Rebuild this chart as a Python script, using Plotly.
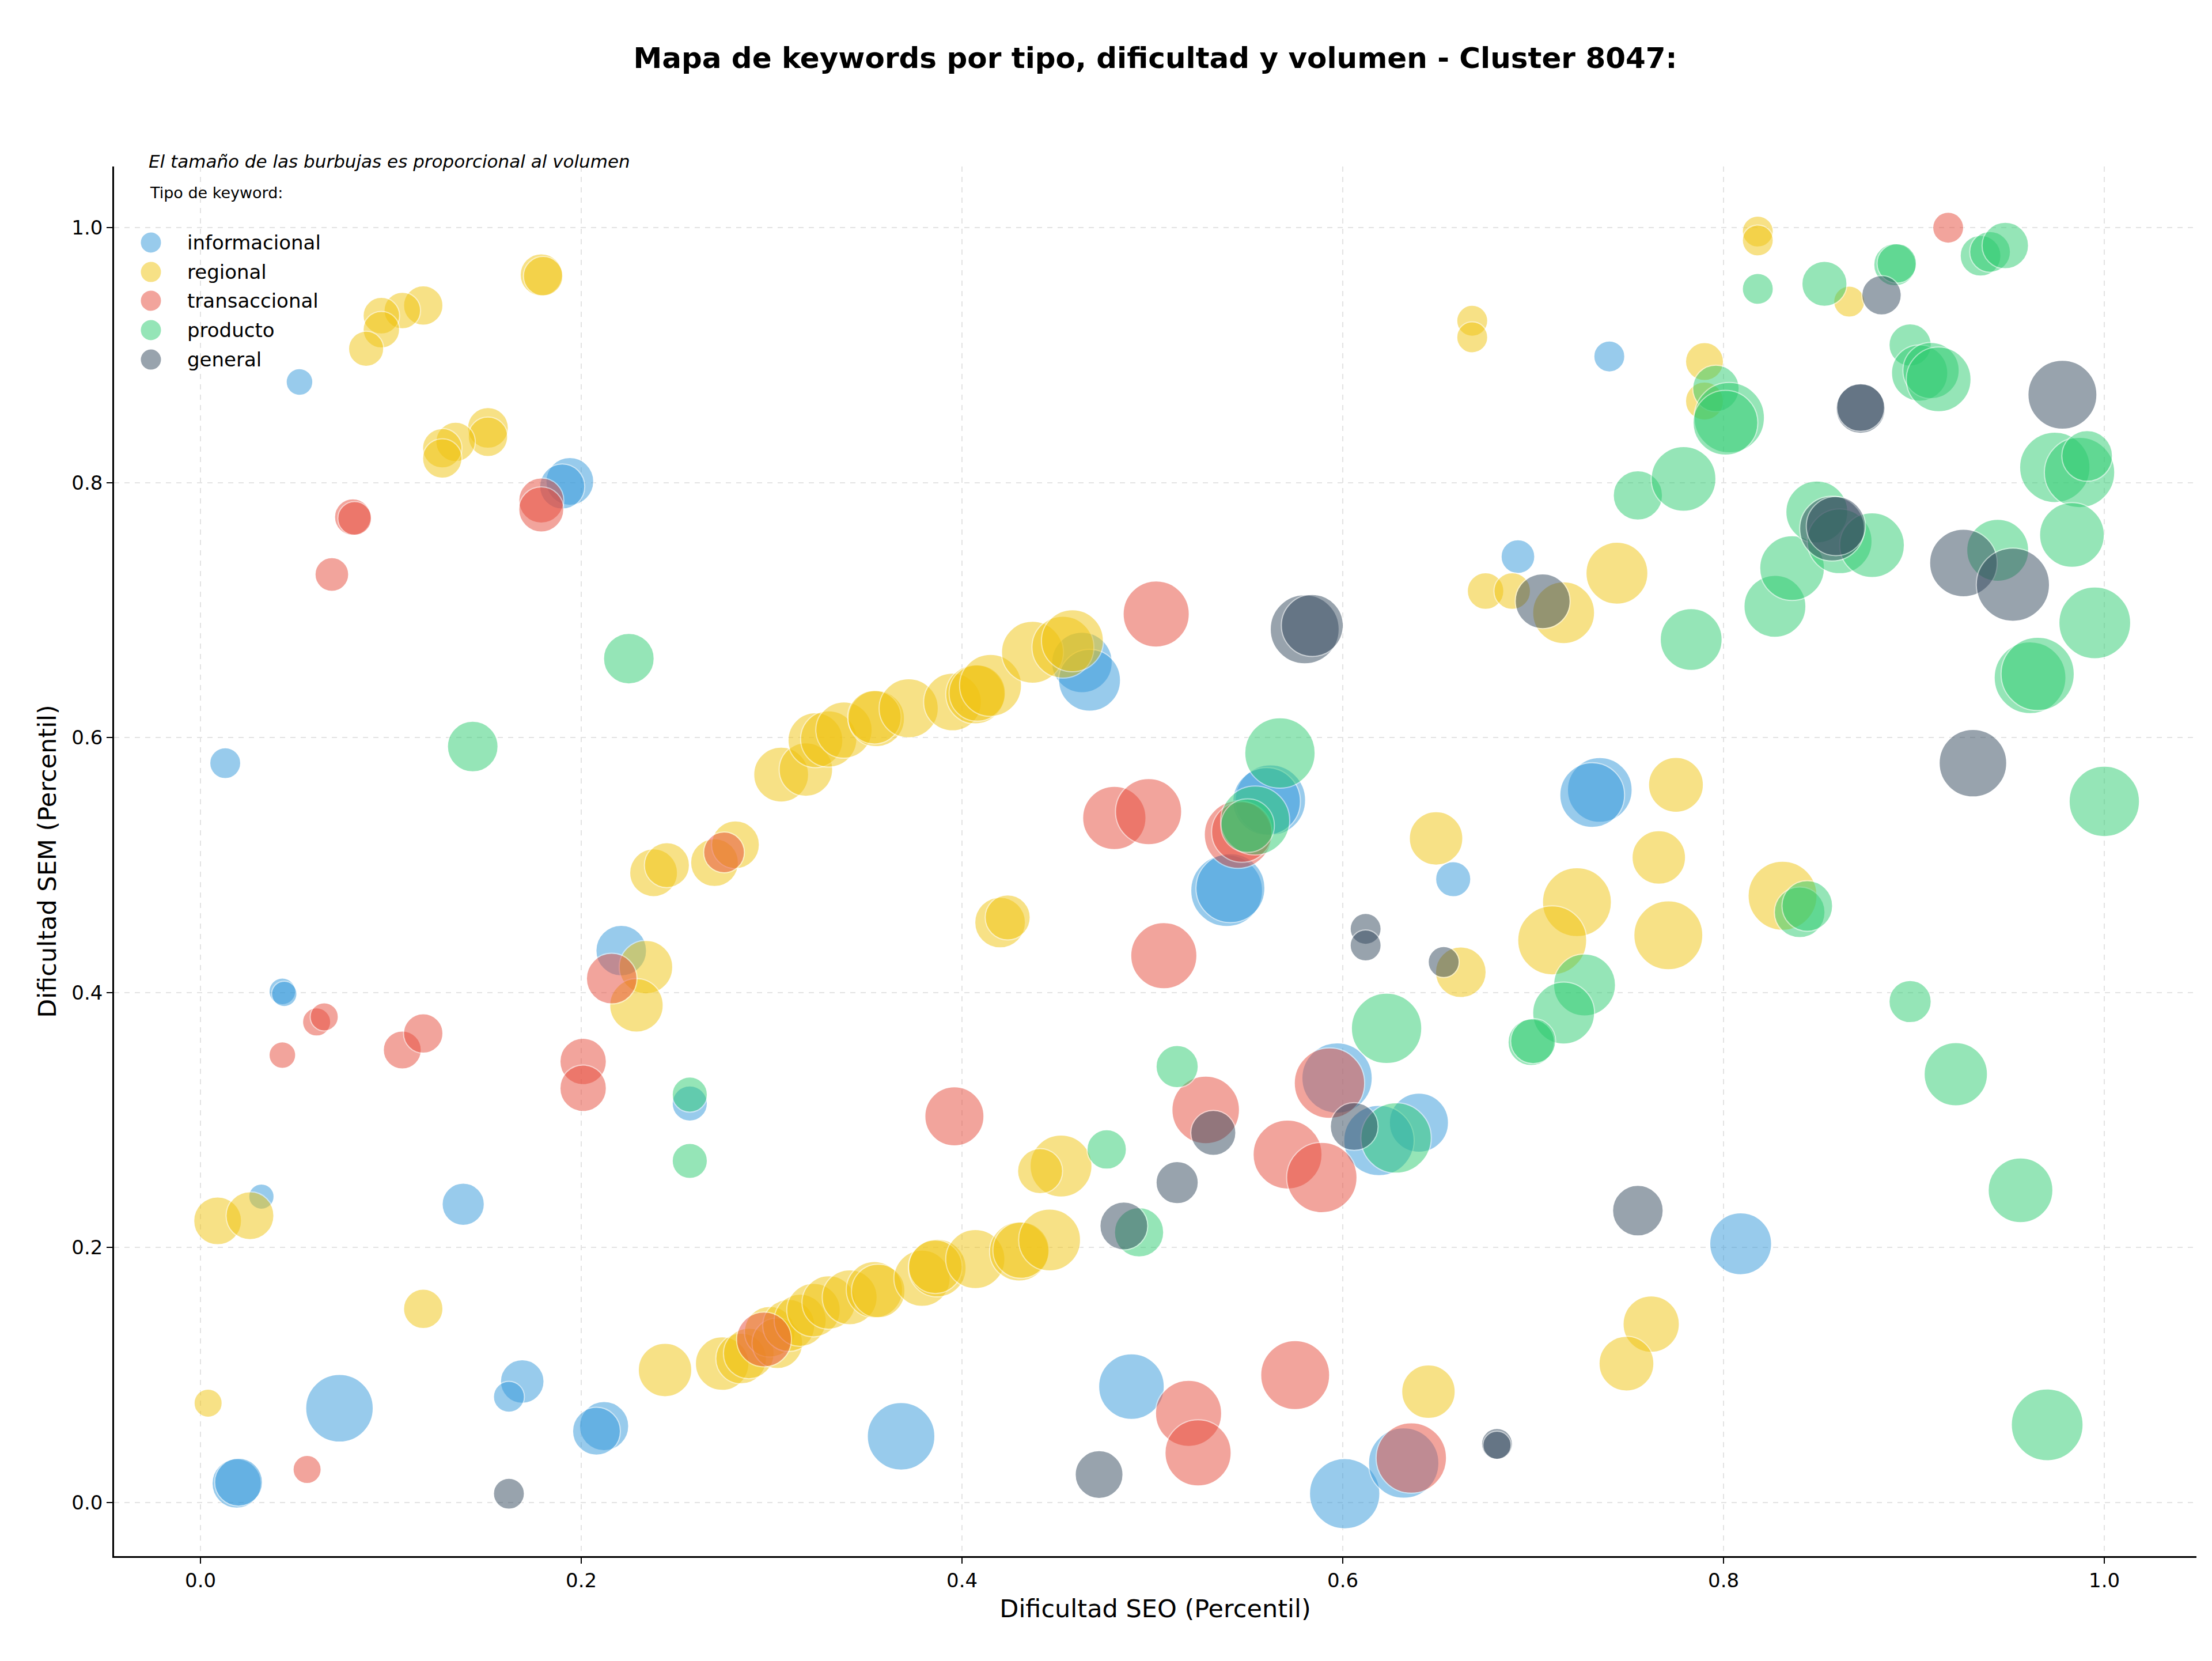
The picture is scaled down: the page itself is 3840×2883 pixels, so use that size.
import numpy as np
import plotly.graph_objects as go

# --- datos (dificultad SEO, dificultad SEM, volumen) ---
info_seo = [0.052, 0.194, 0.190, 0.013, 0.043, 0.044, 0.032, 0.138, 0.221, 0.257,
            0.073, 0.019, 0.020, 0.169, 0.162, 0.212, 0.208, 0.368, 0.489, 0.601,
            0.632, 0.640, 0.619, 0.597, 0.658, 0.539, 0.541, 0.562, 0.560, 0.463,
            0.467, 0.740, 0.692, 0.735, 0.731, 0.809]
info_sem = [0.879, 0.801, 0.797, 0.580, 0.401, 0.399, 0.240, 0.234, 0.433, 0.313,
            0.074, 0.015, 0.016, 0.095, 0.083, 0.060, 0.056, 0.052, 0.091, 0.007,
            0.031, 0.298, 0.284, 0.333, 0.489, 0.480, 0.482, 0.551, 0.550, 0.659,
            0.645, 0.899, 0.742, 0.559, 0.555, 0.203]
info_vol = [720, 2310, 2050, 970, 720, 650, 650, 1800, 2590, 1250,
            4610, 2450, 2310, 1920, 970, 2450, 2310, 4610, 4350, 5000,
            5000, 3530, 5000, 5000, 1250, 5200, 4800, 5000, 4610, 3700,
            3870, 970, 1150, 4230, 4230, 3870]

reg_seo = [0.179, 0.180, 0.117, 0.106, 0.095, 0.095, 0.087, 0.151, 0.151, 0.134,
           0.127, 0.127, 0.009, 0.026, 0.004, 0.117, 0.244, 0.274, 0.284, 0.288,
           0.299, 0.303, 0.309, 0.315, 0.322, 0.330, 0.341, 0.354, 0.356, 0.379,
           0.387, 0.386, 0.407, 0.430, 0.431, 0.446, 0.238, 0.245, 0.270, 0.281,
           0.305, 0.318, 0.323, 0.330, 0.338, 0.355, 0.354, 0.372, 0.395, 0.407,
           0.408, 0.415, 0.437, 0.453, 0.458, 0.668, 0.668, 0.675, 0.689, 0.716,
           0.744, 0.818, 0.818, 0.866, 0.790, 0.790, 0.775, 0.766, 0.723, 0.710,
           0.771, 0.831, 0.762, 0.749, 0.420, 0.424, 0.452, 0.441, 0.662, 0.645,
           0.649, 0.234, 0.229]
reg_sem = [0.963, 0.962, 0.939, 0.935, 0.931, 0.920, 0.905, 0.843, 0.836, 0.832,
           0.827, 0.819, 0.221, 0.225, 0.078, 0.152, 0.104, 0.109, 0.113, 0.117,
           0.134, 0.125, 0.139, 0.143, 0.151, 0.157, 0.161, 0.167, 0.166, 0.176,
           0.184, 0.185, 0.191, 0.197, 0.198, 0.206, 0.494, 0.500, 0.502, 0.516,
           0.571, 0.575, 0.598, 0.599, 0.606, 0.615, 0.616, 0.623, 0.628, 0.634,
           0.635, 0.641, 0.667, 0.671, 0.676, 0.927, 0.914, 0.715, 0.715, 0.698,
           0.729, 0.997, 0.990, 0.942, 0.895, 0.864, 0.563, 0.506, 0.471, 0.441,
           0.445, 0.476, 0.140, 0.109, 0.455, 0.459, 0.264, 0.260, 0.416, 0.087,
           0.521, 0.420, 0.390]
reg_vol = [1800, 1570, 1570, 1350, 1350, 1350, 1250, 1680, 1570, 1570,
           1570, 1570, 2310, 2310, 800, 1570, 2890, 2890, 2590, 2590,
           2590, 2590, 2740, 2740, 2890, 2890, 3040, 3200, 2890, 3200,
           3360, 2890, 3530, 3530, 3200, 3870, 2310, 2050, 2310, 2310,
           3040, 2890, 3040, 3200, 3200, 3200, 2890, 3530, 3360, 3530,
           3200, 3870, 3870, 3870, 3870, 970, 970, 1350, 1350, 3870,
           3870, 970, 970, 970, 1460, 1460, 3040, 2890, 4800, 4800,
           4800, 4800, 3200, 3040, 2590, 2050, 3870, 2050, 2590, 2890,
           2890, 2890, 2890]

trans_seo = [0.080, 0.081, 0.069, 0.179, 0.179, 0.043, 0.061, 0.065, 0.106, 0.117,
             0.201, 0.201, 0.216, 0.056, 0.296, 0.275, 0.502, 0.480, 0.498, 0.545,
             0.547, 0.396, 0.528, 0.571, 0.589, 0.593, 0.519, 0.524, 0.575, 0.636,
             0.918, 0.506]
trans_sem = [0.773, 0.772, 0.728, 0.786, 0.779, 0.351, 0.377, 0.381, 0.355, 0.368,
             0.346, 0.325, 0.411, 0.026, 0.128, 0.510, 0.697, 0.537, 0.542, 0.524,
             0.526, 0.303, 0.308, 0.273, 0.255, 0.329, 0.070, 0.039, 0.100, 0.035,
             1.000, 0.429]
trans_vol = [1350, 1150, 1150, 2050, 2050, 720, 800, 800, 1460, 1570,
             2180, 2180, 2590, 800, 3040, 1680, 4420, 4050, 4420, 4610,
             3700, 3530, 4610, 4800, 5000, 5000, 4420, 4420, 4800, 5000,
             970, 4420]

prod_seo = [0.225, 0.143, 0.257, 0.257, 0.476, 0.513, 0.493, 0.623, 0.628, 0.567,
            0.554, 0.550, 0.755, 0.779, 0.796, 0.803, 0.801, 0.818, 0.853, 0.890,
            0.891, 0.935, 0.940, 0.948, 0.898, 0.903, 0.909, 0.913, 0.974, 0.987,
            0.991, 0.983, 0.995, 0.961, 0.965, 0.783, 0.827, 0.836, 0.849, 0.861,
            0.878, 0.944, 0.727, 0.716, 0.699, 0.700, 0.840, 0.844, 0.898, 0.922,
            0.956, 0.970, 1.000]
prod_sem = [0.662, 0.593, 0.320, 0.268, 0.277, 0.342, 0.212, 0.372, 0.286, 0.588,
            0.535, 0.531, 0.790, 0.803, 0.874, 0.851, 0.847, 0.952, 0.956, 0.971,
            0.972, 0.978, 0.981, 0.986, 0.908, 0.886, 0.888, 0.881, 0.812, 0.808,
            0.821, 0.759, 0.690, 0.647, 0.650, 0.677, 0.703, 0.733, 0.777, 0.754,
            0.751, 0.747, 0.406, 0.384, 0.361, 0.362, 0.463, 0.468, 0.393, 0.336,
            0.245, 0.061, 0.550]
prod_vol = [2590, 2590, 1250, 1250, 1570, 1800, 2450, 5000, 5000, 5000,
            4800, 2890, 2450, 4230, 2180, 5000, 4230, 970, 2050, 1800,
            1570, 1680, 1680, 2180, 1800, 3200, 3200, 4230, 5000, 5000,
            2590, 4230, 5200, 5200, 5410, 3870, 3870, 4230, 3870, 4230,
            4230, 3870, 3870, 3870, 2180, 2050, 2590, 2590, 1800, 4050,
            4230, 5200, 5000]

gen_seo = [0.162, 0.472, 0.681, 0.681, 0.485, 0.513, 0.532, 0.606, 0.612, 0.612,
           0.653, 0.755, 0.580, 0.584, 0.705, 0.883, 0.872, 0.872, 0.978, 0.857,
           0.859, 0.926, 0.952, 0.931]
gen_sem = [0.007, 0.022, 0.046, 0.045, 0.217, 0.251, 0.290, 0.295, 0.450, 0.437,
           0.424, 0.229, 0.685, 0.688, 0.707, 0.947, 0.858, 0.859, 0.869, 0.764,
           0.766, 0.737, 0.720, 0.580]
gen_vol = [970, 2310, 970, 800, 2310, 1800, 2050, 2310, 970, 970,
           970, 2590, 4800, 3870, 3040, 1570, 2450, 2310, 4800, 4230,
           3530, 4610, 5410, 4610]

tipos = ["informacional", "regional", "transaccional", "producto", "general"]
colores = {"informacional": "#3498db", "regional": "#f1c40f", "transaccional": "#e74c3c",
           "producto": "#2ecc71", "general": "#34495e"}
datos = {
    "informacional": (info_seo, info_sem, info_vol),
    "regional": (reg_seo, reg_sem, reg_vol),
    "transaccional": (trans_seo, trans_sem, trans_vol),
    "producto": (prod_seo, prod_sem, prod_vol),
    "general": (gen_seo, gen_sem, gen_vol),
}

FONT = "DejaVu Sans"
W, H = 3832, 2875  # the page body keeps an 8px margin
fig = go.Figure()

for tipo in tipos:
    seo, sem, vol = datos[tipo]
    fig.add_trace(go.Scatter(
        x=seo, y=sem, mode="markers", name=tipo, showlegend=False,
        marker=dict(size=1.73 * np.sqrt(np.array(vol)), color=colores[tipo], opacity=0.5,
                    line=dict(color="white", width=2)),
    ))

# leyenda manual (marcadores grandes como en el original)
shapes = []
annotations = []
leg_y = [0.9453, 0.9241, 0.9034, 0.8823, 0.8611]
for tipo, yy in zip(tipos, leg_y):
    shapes.append(dict(type="circle", xref="paper", yref="paper", xsizemode="pixel", ysizemode="pixel",
                       xanchor=0.0177, yanchor=yy, x0=-18.5, x1=18.5, y0=-18.5, y1=18.5,
                       fillcolor=colores[tipo], opacity=0.5, line=dict(color="white", width=2)))
    annotations.append(dict(text=tipo, xref="paper", yref="paper", x=0.0345, y=yy,
                            xanchor="left", yanchor="middle", showarrow=False,
                            font=dict(family=FONT, size=34, color="black")))

annotations.append(dict(text="Tipo de keyword:", xref="paper", yref="paper", x=0.0165, y=0.981,
                        xanchor="left", yanchor="middle", showarrow=False,
                        font=dict(family=FONT, size=27, color="black")))
annotations.append(dict(text="<i>El tamaño de las burbujas es proporcional al volumen</i>",
                        xref="paper", yref="paper", x=0.016, y=1.0037,
                        xanchor="left", yanchor="middle", showarrow=False,
                        font=dict(family=FONT, size=31, color="black")))

axis_common = dict(
    showgrid=True, gridcolor="#e3e3e3", griddash="dash", gridwidth=2,
    zeroline=False, showline=True, linecolor="black", linewidth=2.5, mirror=False,
    ticks="outside", ticklen=10, tickwidth=2, tickcolor="black",
    tickformat=".1f", dtick=0.2, tick0=0,
    tickfont=dict(family=FONT, size=34, color="black"),
)

fig.update_layout(
    width=W, height=H, autosize=False,
    margin=dict(l=190, r=27, t=281, b=182),
    paper_bgcolor="white", plot_bgcolor="white",
    title=dict(text="<b>Mapa de keywords por tipo, dificultad y volumen - Cluster 8047:</b>",
               x=0.5, xref="paper", y=1 - 92 / H, yref="container",
               xanchor="center", yanchor="middle",
               font=dict(family=FONT, size=50, color="black")),
    xaxis=dict(axis_common, range=[-0.0454, 1.0484],
               title=dict(text="Dificultad SEO (Percentil)", standoff=16,
                          font=dict(family=FONT, size=43, color="black"))),
    yaxis=dict(axis_common, range=[-0.042, 1.048],
               title=dict(text="Dificultad SEM (Percentil)", standoff=14,
                          font=dict(family=FONT, size=43, color="black"))),
    shapes=shapes,
    annotations=annotations,
    showlegend=False,
)

fig.write_html("out.html")
